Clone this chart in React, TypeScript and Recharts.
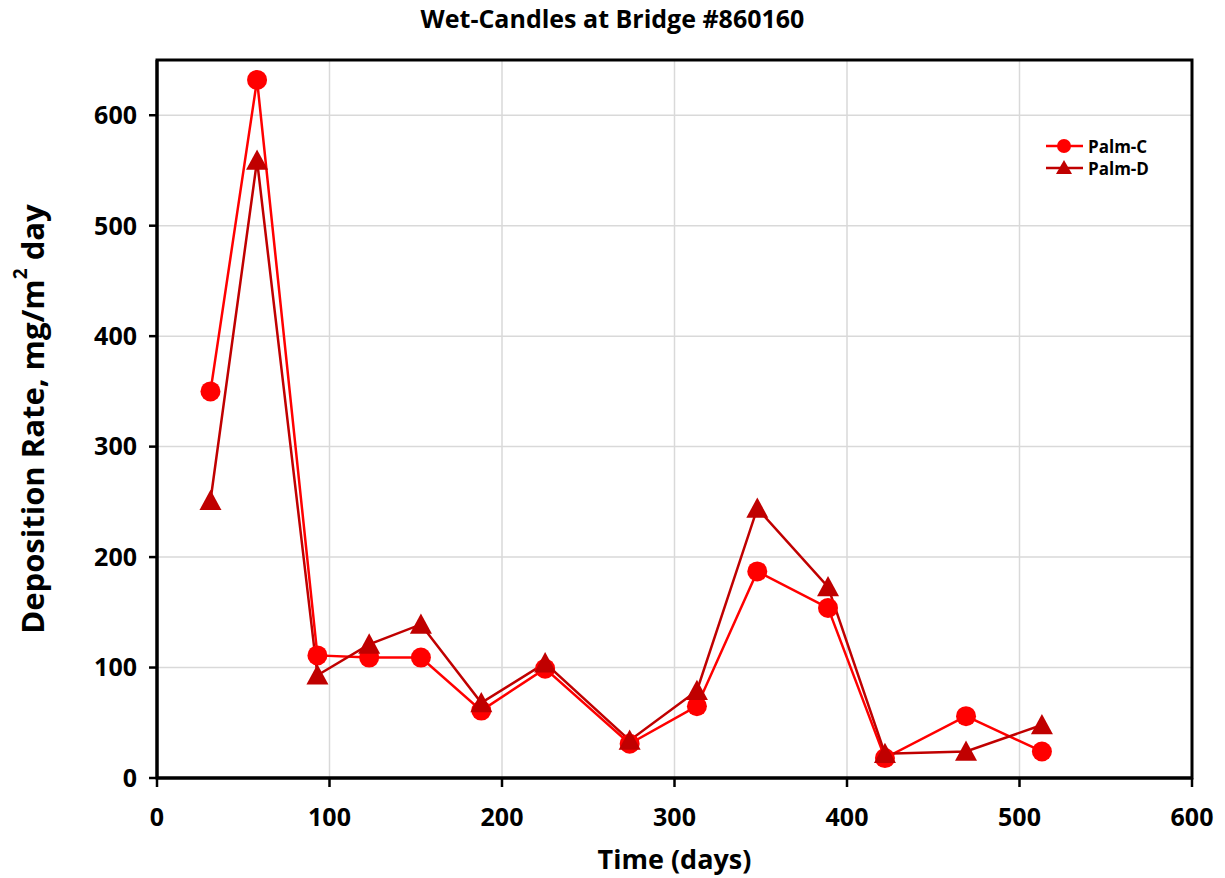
import React from "react";
import { ComposedChart, Line, XAxis, YAxis, CartesianGrid, ReferenceArea } from "recharts";

const days = [31, 58, 93, 123, 153, 188, 225, 274, 313, 348, 389, 422, 469, 513];
const palmC = [350, 632, 111, 109, 109, 61, 99, 31, 65, 187, 154, 18, 56, 24];
const palmD = [251, 559, 93, 121, 139, 68, 104, 34, 79, 244, 173, 22, 24, 48];
const xTicks = [0, 100, 200, 300, 400, 500, 600];
const yTicks = [0, 100, 200, 300, 400, 500, 600];

const seriesC = days.map((d, i) => ({ x: d, y: palmC[i] }));
const seriesD = days.map((d, i) => ({ x: d, y: palmD[i] }));

const FONT = "'Open Sans', sans-serif";
const RED = "#FF0000";
const DARK = "#C00000";

const Circle = (p: any) => {
  const { cx, cy, index } = p;
  if (cx == null || cy == null) return <g key={index} />;
  return <circle key={index} cx={cx} cy={cy} r={10} fill={RED} stroke="none" />;
};
const Tri = (p: any) => {
  const { cx, cy, index } = p;
  if (cx == null || cy == null) return <g key={index} />;
  const s = 11;
  return (
    <polygon
      key={index}
      points={`${cx},${cy - s} ${cx - s},${cy + s * 0.85} ${cx + s},${cy + s * 0.85}`}
      fill={DARK}
      stroke="none"
    />
  );
};

export default function App() {
  const W = 1209;
  const H = 870;
  return (
    <div style={{ position: "relative", width: W, height: H, fontFamily: FONT }}>
      <div
        style={{
          position: "absolute",
          top: 0,
          left: 0,
          width: W,
          textAlign: "center",
          fontSize: 25,
          fontWeight: 700,
          lineHeight: "20px",
          color: "#000",
        }}
      >
        Wet-Candles at Bridge #860160
      </div>
      <ComposedChart width={W} height={H} margin={{ top: 52, right: 25, bottom: 20, left: 0 }}>
        <CartesianGrid xAxisId="main" yAxisId="main" stroke="#d9d9d9" strokeWidth={1.5} />
        <XAxis
          xAxisId="main"
          type="number"
          dataKey="x"
          domain={[0, 600]}
          ticks={xTicks}
          allowDataOverflow
          stroke="#000"
          strokeWidth={3}
          tickSize={9}
          tickMargin={21}
          height={80}
          tick={{ fill: "#000", fontSize: 25, fontWeight: 700, fontFamily: FONT }}
          tickLine={{ stroke: "#000", strokeWidth: 2.5 }}
          label={(props: any) => {
            const vb = props.viewBox || {};
            const cx = vb.x + vb.width / 2;
            return (
              <text
                x={cx}
                y={850}
                textAnchor="middle"
                dominantBaseline="central"
                fill="#000"
                fontSize={27}
                fontWeight={700}
                fontFamily={FONT}
              >
                Time (days)
              </text>
            );
          }}
        />
        <YAxis
          yAxisId="main"
          type="number"
          domain={[0, 650]}
          ticks={yTicks}
          allowDataOverflow
          stroke="#000"
          strokeWidth={3}
          tickSize={8}
          tickMargin={12}
          width={149}
          tick={{ fill: "#000", fontSize: 25, fontWeight: 700, fontFamily: FONT }}
          tickLine={{ stroke: "#000", strokeWidth: 2.5 }}
          label={(props: any) => {
            const vb = props.viewBox || {};
            const cy = vb.y + vb.height / 2;
            return (
              <text
                x={24}
                y={cy}
                transform={`rotate(-90, 24, ${cy})`}
                textAnchor="middle"
                dominantBaseline="central"
                fill="#000"
                fontSize={31}
                fontWeight={700}
                fontFamily={FONT}
              >
                Deposition Rate, mg/m
                <tspan fontSize={19} dy={-12}>2</tspan>
                <tspan dy={12}> day</tspan>
              </text>
            );
          }}
        />
        <ReferenceArea
          xAxisId="main"
          yAxisId="main"
          x1={0}
          x2={600}
          y1={0}
          y2={650}
          fill="none"
          fillOpacity={0}
          stroke="#000"
          strokeWidth={3}
          ifOverflow="visible"
        />
        <Line
          xAxisId="main"
          yAxisId="main"
          data={seriesC}
          dataKey="y"
          type="linear"
          stroke={RED}
          strokeWidth={2.5}
          dot={Circle}
          activeDot={false}
          isAnimationActive={false}
          name="Palm-C"
        />
        <Line
          xAxisId="main"
          yAxisId="main"
          data={seriesD}
          dataKey="y"
          type="linear"
          stroke={DARK}
          strokeWidth={2.5}
          dot={Tri}
          activeDot={false}
          isAnimationActive={false}
          name="Palm-D"
        />
      </ComposedChart>
      <svg
        style={{ position: "absolute", left: 1030, top: 120, overflow: "visible" }}
        width={160}
        height={60}
      >
        <line x1={8} y1={18} x2={45} y2={18} stroke={RED} strokeWidth={2.5} />
        <circle cx={26} cy={18} r={7} fill={RED} />
        <text x={50} y={18} dominantBaseline="central" fontSize={17} fontWeight={700} fontFamily={FONT} fill="#000">
          Palm-C
        </text>
        <line x1={8} y1={40} x2={45} y2={40} stroke={DARK} strokeWidth={2.5} />
        <polygon points="26,32 18,46 34,46" fill={DARK} />
        <text x={50} y={40} dominantBaseline="central" fontSize={17} fontWeight={700} fontFamily={FONT} fill="#000">
          Palm-D
        </text>
      </svg>
    </div>
  );
}
